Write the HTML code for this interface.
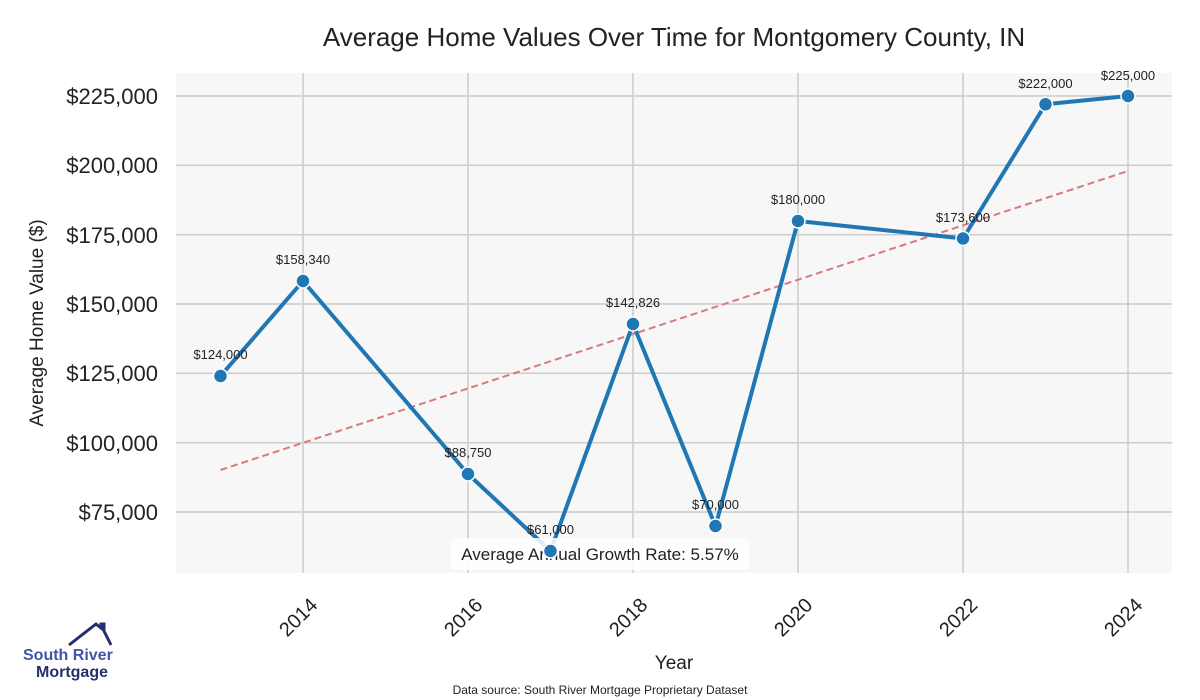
<!DOCTYPE html>
<html><head><meta charset="utf-8"><style>body{margin:0;background:#fff}svg{display:block}text{font-family:"Liberation Sans",sans-serif}</style></head><body>
<svg width="1200" height="700" viewBox="0 0 1200 700" xmlns="http://www.w3.org/2000/svg">
<rect x="176" y="73" width="996" height="500" fill="#f7f7f7"/>
<g stroke="#cccccc" stroke-width="1.5">
<line x1="176" x2="1172" y1="96" y2="96"/><line x1="176" x2="1172" y1="165.3" y2="165.3"/><line x1="176" x2="1172" y1="234.7" y2="234.7"/><line x1="176" x2="1172" y1="304" y2="304"/><line x1="176" x2="1172" y1="373.3" y2="373.3"/><line x1="176" x2="1172" y1="442.7" y2="442.7"/><line x1="176" x2="1172" y1="512" y2="512"/>
<line x1="303" x2="303" y1="73" y2="573"/><line x1="468" x2="468" y1="73" y2="573"/><line x1="633" x2="633" y1="73" y2="573"/><line x1="798" x2="798" y1="73" y2="573"/><line x1="963" x2="963" y1="73" y2="573"/><line x1="1128" x2="1128" y1="73" y2="573"/>
</g>
<g font-size="22" fill="#222" text-anchor="end">
<text x="158" y="104">$225,000</text><text x="158" y="173">$200,000</text><text x="158" y="243">$175,000</text><text x="158" y="312">$150,000</text><text x="158" y="381">$125,000</text><text x="158" y="451">$100,000</text><text x="158" y="520">$75,000</text>
</g>
<g font-size="20" fill="#222" text-anchor="middle">
<text transform="translate(303,622) rotate(-45)">2014</text><text transform="translate(468,622) rotate(-45)">2016</text><text transform="translate(633,622) rotate(-45)">2018</text><text transform="translate(798,622) rotate(-45)">2020</text><text transform="translate(963,622) rotate(-45)">2022</text><text transform="translate(1128,622) rotate(-45)">2024</text>
</g>
<text x="674" y="669" font-size="19" text-anchor="middle" fill="#222">Year</text>
<text transform="translate(43,323) rotate(-90)" font-size="19" text-anchor="middle" fill="#222">Average Home Value ($)</text>
<text x="674" y="46" font-size="26" text-anchor="middle" fill="#222">Average Home Values Over Time for Montgomery County, IN</text>
<line x1="220.5" y1="470" x2="1128" y2="171" stroke="#d97a7a" stroke-width="2" stroke-dasharray="7,4"/>
<polyline fill="none" stroke="#1f77b4" stroke-width="4" stroke-linejoin="round" points="220.5,376 303,281 468,474 550.5,551 633,324 715.5,526 798,221 963,238.5 1045.5,104.3 1128,96"/>
<rect x="450" y="538" width="300" height="32" rx="6" fill="#fff" opacity="0.85"/>
<text x="600" y="560" font-size="17" text-anchor="middle" fill="#222">Average Annual Growth Rate: 5.57%</text>
<g fill="#1f77b4" stroke="#fff" stroke-width="1.5">
<circle cx="220.5" cy="376" r="7"/><circle cx="303" cy="281" r="7"/><circle cx="468" cy="474" r="7"/><circle cx="550.5" cy="551" r="7"/><circle cx="633" cy="324" r="7"/><circle cx="715.5" cy="526" r="7"/><circle cx="798" cy="221" r="7"/><circle cx="963" cy="238.5" r="7"/><circle cx="1045.5" cy="104.3" r="7"/><circle cx="1128" cy="96" r="7"/>
</g>
<g font-size="13" text-anchor="middle" fill="#222">
<text x="220.5" y="359">$124,000</text><text x="303" y="264">$158,340</text><text x="468" y="457">$88,750</text><text x="550.5" y="534">$61,000</text><text x="633" y="307">$142,826</text><text x="715.5" y="509">$70,000</text><text x="798" y="204">$180,000</text><text x="963" y="222">$173,600</text><text x="1045.5" y="88">$222,000</text><text x="1128" y="80">$225,000</text>
</g>
<polyline points="69,645 96,624 101,628 101,624 104,624 104,631 111,645" fill="none" stroke="#27306b" stroke-width="3"/>
<text x="23" y="660" font-size="16" font-weight="bold" fill="#4255a8">South River</text>
<text x="36" y="677" font-size="16" font-weight="bold" fill="#27306b">Mortgage</text>
<text x="600" y="694" font-size="12" text-anchor="middle" fill="#222">Data source: South River Mortgage Proprietary Dataset</text>
</svg>
</body></html>
